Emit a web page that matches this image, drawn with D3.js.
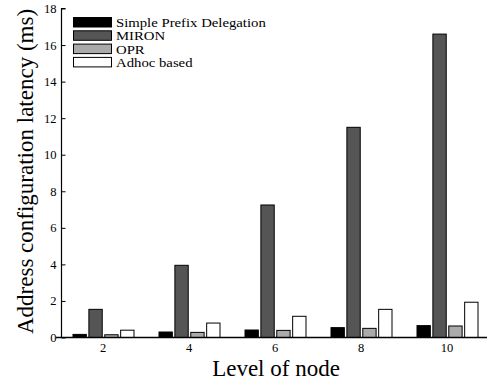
<!DOCTYPE html>
<html><head><meta charset="utf-8">
<script src="https://cdn.jsdelivr.net/npm/d3@7"></script>
<style>body{margin:0;background:#fff}svg{display:block}</style>
</head><body>
<script>
const levels = ["2","4","6","8","10"];
const seriesNames = ["Simple Prefix Delegation","MIRON","OPR","Adhoc based"];
const spd   = [0.17, 0.30, 0.41, 0.54, 0.65];
const miron = [1.54, 3.95, 7.25, 11.5, 16.6];
const opr   = [0.15, 0.28, 0.39, 0.50, 0.63];
const adhoc = [0.40, 0.79, 1.16, 1.54, 1.93];
const yTicks = [0,2,4,6,8,10,12,14,16,18];
const colors = ["#000000","#555555","#aaaaaa","#ffffff"];
const allSeries = [spd, miron, opr, adhoc];

const W = 487, H = 381;
const svg = d3.select("body").append("svg").attr("width", W).attr("height", H);
const font = "Liberation Serif";

const x = d3.scaleBand().domain(levels).range([60, 490]).paddingInner(0).paddingOuter(0);
const y = d3.scaleLinear().domain([0, 18]).range([337.5, 8.5]);
const inner = d3.scaleBand().domain(d3.range(4)).range([-30, 31]).paddingInner(0.16);

// bars
levels.forEach((lv, i) => {
  const cx = x(lv) + x.bandwidth() / 2;
  allSeries.forEach((s, k) => {
    svg.append("rect")
      .attr("x", cx + inner(k))
      .attr("y", y(s[i]))
      .attr("width", inner.bandwidth())
      .attr("height", y(0) - y(s[i]))
      .attr("fill", colors[k])
      .attr("stroke", "#000").attr("stroke-width", 1);
  });
});

// y axis
const yAxis = d3.axisRight(y).tickValues(yTicks).tickSize(4).tickFormat(d3.format("d"));
const gy = svg.append("g").attr("transform", "translate(61.5,0)").call(yAxis);
gy.attr("font-family", null);
gy.select(".domain").attr("d", `M4,${y(18)}H0V${y(0)}`).attr("stroke", "#000").attr("stroke-width", 1.2);
gy.selectAll(".tick line").attr("stroke", "#000");
gy.selectAll(".tick text").attr("x", -5).attr("text-anchor", "end")
  .style("font-family", font).style("font-size", "12.5px").attr("fill", "#000");

// x axis
const xAxis = d3.axisBottom(x).tickSize(0).tickPadding(6);
const gx = svg.append("g").attr("transform", `translate(0,${y(0)})`).call(xAxis);
gx.attr("font-family", null);
gx.select(".domain").attr("d", `M56,0H487`).attr("stroke", "#000").attr("stroke-width", 1.5);
gx.selectAll(".tick text").style("font-family", font).style("font-size", "12.5px").attr("fill", "#000");

// axis titles
svg.append("text").attr("x", 276).attr("y", 375.5).attr("text-anchor", "middle")
  .style("font-family", font).style("font-size", "23px").text("Level of node");
svg.append("text").attr("transform", "translate(33,171.5) rotate(-90)").attr("text-anchor", "middle")
  .style("font-family", font).style("font-size", "23px").text("Address configuration latency (ms)");

// legend
seriesNames.forEach((n, k) => {
  const ly = 17 + k * 13.3;
  svg.append("rect").attr("x", 73.5).attr("y", ly + 0.5).attr("width", 38).attr("height", 9.5)
    .attr("fill", colors[k]).attr("stroke", "#000").attr("stroke-width", 1);
  svg.append("text").attr("transform", `translate(116,${ly + 10}) scale(1.25,1)`)
    .style("font-family", font).style("font-size", "11.8px").text(n);
});
</script>
</body></html>
